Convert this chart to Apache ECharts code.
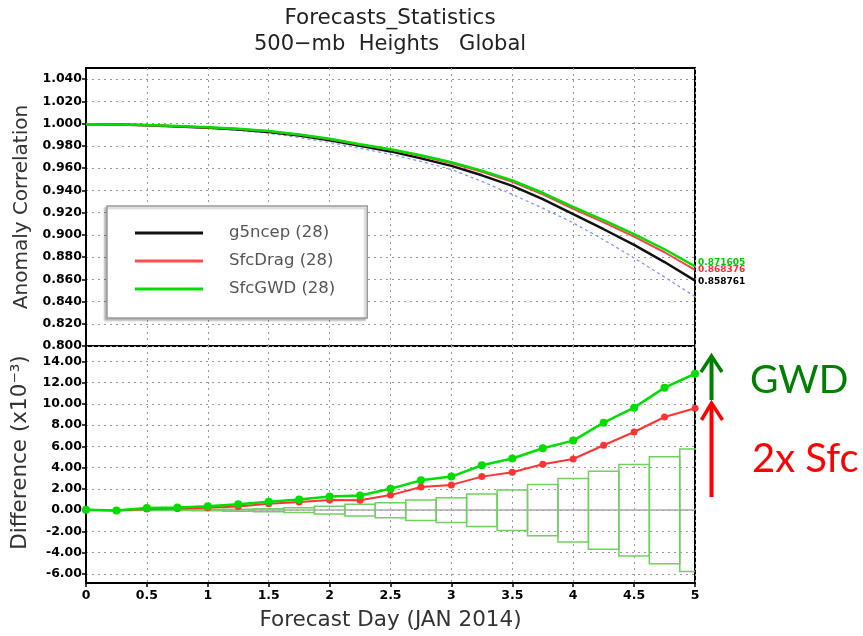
<!DOCTYPE html>
<html>
<head>
<meta charset="utf-8">
<script src="https://cdn.jsdelivr.net/npm/echarts@6/dist/echarts.min.js"></script>
<style>html,body{margin:0;padding:0;background:#fff}#c{width:863px;height:636px}</style>
</head>
<body>
<div id="c"></div>
<script>
// ---- data ----
const days = [0,0.25,0.5,0.75,1,1.25,1.5,1.75,2,2.25,2.5,2.75,3,3.25,3.5,3.75,4,4.25,4.5,4.75,5];
const g5ncep   = [0.9995,0.9993,0.9985,0.9975,0.9963,0.9948,0.9925,0.9892,0.9850,0.9800,0.9750,0.9687,0.9620,0.9535,0.9440,0.9320,0.9185,0.9050,0.8910,0.8755,0.858761];
const sfcDrag  = [0.9995,0.9993,0.9986,0.9977,0.9965,0.9952,0.9931,0.9900,0.9860,0.9809,0.9764,0.9709,0.9644,0.9567,0.9476,0.9363,0.9233,0.9111,0.8984,0.8843,0.868376];
const sfcGWD   = [0.9995,0.9993,0.9987,0.9978,0.9967,0.9954,0.9933,0.9902,0.9863,0.9814,0.9770,0.9715,0.9652,0.9577,0.9489,0.9378,0.9251,0.9132,0.9007,0.8870,0.871605];
const refDashed= [0.9995,0.9993,0.9984,0.9972,0.9958,0.9940,0.9913,0.9875,0.9830,0.9778,0.9724,0.9660,0.9588,0.9480,0.9363,0.9240,0.9107,0.8955,0.8792,0.8620,0.8445];
const diffDrag = [0.05,-0.02,0.12,0.15,0.22,0.35,0.6,0.78,0.97,0.93,1.42,2.19,2.38,3.16,3.57,4.32,4.82,6.11,7.36,8.77,9.6];
const diffGWD  = [0.05,-0.02,0.2,0.25,0.38,0.55,0.8,1.0,1.3,1.38,2.02,2.81,3.16,4.23,4.86,5.83,6.55,8.24,9.65,11.53,12.84];
const sigHalf  = [0.01,0.02,0.03,0.04,0.06,0.09,0.14,0.22,0.36,0.55,0.7,0.97,1.16,1.53,1.91,2.41,2.99,3.67,4.31,5.04,5.76];
const topTicks = [0.80,0.82,0.84,0.86,0.88,0.90,0.92,0.94,0.96,0.98,1.00,1.02,1.04];
const botTicks = [-6,-4,-2,0,2,4,6,8,10,12,14];
const seriesNames = ['g5ncep (28)','SfcDrag (28)','SfcGWD (28)'];

const pairs = (xs, ys) => xs.map((x, i) => [x, ys[i]]);
const BOX_W = 0.25;

const labelFont = {fontFamily:'DejaVu Sans', fontWeight:'bold', fontSize:12.5, color:'#000'};
const nameFont = {fontFamily:'DejaVu Sans', fontSize:20, color:'#333'};
const dotted = {show:true, lineStyle:{color:'#999', width:1, type:[2,4]}};

const chart = echarts.init(document.getElementById('c'), null, {renderer:'canvas'});
chart.setOption({
  animation:false,
  backgroundColor:'#fff',
  grid:[
    {left:86, top:68, width:609, height:278, show:true, borderColor:'#000', borderWidth:2, backgroundColor:'transparent'},
    {left:86, top:346, width:609, height:237, show:true, borderColor:'#000', borderWidth:2, backgroundColor:'transparent'}
  ],
  xAxis:[
    {gridIndex:0, type:'value', min:0, max:5, interval:0.5, axisLine:{show:false, onZero:false}, axisTick:{show:false}, axisLabel:{show:false}, splitLine:dotted},
    {gridIndex:1, type:'value', min:0, max:5, interval:0.5, axisLine:{show:false, onZero:false},
     axisTick:{show:true, length:4, lineStyle:{color:'#000', width:1.5}},
     axisLabel:{...labelFont, margin:6},
     splitLine:dotted,
     name:'Forecast Day (JAN 2014)', nameLocation:'middle', nameGap:26,
     nameTextStyle:{...nameFont, fontSize:21.5}}
  ],
  yAxis:[
    {gridIndex:0, type:'value', min:0.8, max:1.05,
     axisLine:{show:true, onZero:false, lineStyle:{color:'#000', width:2}},
     axisTick:{show:true, length:4, customValues:topTicks, lineStyle:{color:'#000', width:1.5}},
     axisLabel:{...labelFont, margin:4, customValues:topTicks, formatter:v => v.toFixed(3)},
     splitLine:dotted,
     name:'Anomaly Correlation', nameLocation:'middle', nameGap:47,
     nameTextStyle:nameFont},
    {gridIndex:1, type:'value', min:-6.85, max:15.45,
     axisLine:{show:true, onZero:false, lineStyle:{color:'#000', width:2}},
     axisTick:{show:true, length:4, customValues:botTicks, lineStyle:{color:'#000', width:1.5}},
     axisLabel:{...labelFont, margin:4, customValues:botTicks, formatter:v => v.toFixed(2)},
     splitLine:dotted,
     name:'Difference (x10\u207B\u00B3)', nameLocation:'middle', nameGap:47,
     nameTextStyle:{...nameFont, fontSize:21.5, padding:[0,0,0,24]}}
  ],
  legend:{
    data:seriesNames, orient:'vertical', left:107, top:206,
    icon:'rect', itemWidth:68, itemHeight:3, itemGap:0,
    padding:[13,32,15,28],
    backgroundColor:'#fff', borderColor:'#999', borderWidth:1.5,
    shadowColor:'rgba(0,0,0,0.25)', shadowBlur:2, shadowOffsetX:-2, shadowOffsetY:2,
    textStyle:{fontFamily:'DejaVu Sans', fontSize:16.5, color:'#555', lineHeight:28, padding:[0,0,0,21]}
  },
  series:[
    {type:'line', name:'reference', xAxisIndex:0, yAxisIndex:0, data:pairs(days, refDashed),
     showSymbol:false, color:'#7a90ff', lineStyle:{color:'#7a90ff', width:1.2, type:[3,3]}, z:2},
    {type:'line', name:seriesNames[0], xAxisIndex:0, yAxisIndex:0, data:pairs(days, g5ncep),
     showSymbol:false, color:'#111', lineStyle:{color:'#111', width:2.5}, z:3,
     endLabel:{show:true, formatter:p => p.value[1].toFixed(6), color:'#000', fontSize:9, fontWeight:'bold', fontFamily:'DejaVu Sans', distance:3, offset:[0,1]}},
    {type:'line', name:seriesNames[1], xAxisIndex:0, yAxisIndex:0, data:pairs(days, sfcDrag),
     showSymbol:false, color:'#ff4d4d', lineStyle:{color:'#ff4040', width:2}, z:4,
     endLabel:{show:true, formatter:p => p.value[1].toFixed(6), color:'#ff3030', fontSize:9, fontWeight:'bold', fontFamily:'DejaVu Sans', distance:3, offset:[0,0]}},
    {type:'line', name:seriesNames[2], xAxisIndex:0, yAxisIndex:0, data:pairs(days, sfcGWD),
     showSymbol:false, color:'#00dd00', lineStyle:{color:'#00dd00', width:2.5}, z:5,
     endLabel:{show:true, formatter:p => p.value[1].toFixed(6), color:'#00cc00', fontSize:9, fontWeight:'bold', fontFamily:'DejaVu Sans', distance:3, offset:[0,-4]}},
    {type:'custom', name:'significance', xAxisIndex:1, yAxisIndex:1, clip:true,
     data:pairs(days, sigHalf), z:2,
     renderItem:(params, api) => {
       const x = api.value(0), h = api.value(1);
       const p1 = api.coord([x - BOX_W/2, h]);
       const p2 = api.coord([x + BOX_W/2, -h]);
       return {type:'rect', shape:{x:p1[0], y:p1[1], width:p2[0]-p1[0], height:p2[1]-p1[1]},
               style:{fill:'none', stroke:'#70d060', lineWidth:1.5}};
     }},
    {type:'line', name:'SfcDrag diff', xAxisIndex:1, yAxisIndex:1, data:pairs(days, diffDrag),
     symbol:'circle', symbolSize:7, color:'#ff3333', lineStyle:{color:'#ff3333', width:2}, z:4,
     markLine:{silent:true, symbol:'none', label:{show:false}, lineStyle:{color:'#aaa', width:1.5, type:'solid'}, data:[{yAxis:0}], z:1}},
    {type:'line', name:'SfcGWD diff', xAxisIndex:1, yAxisIndex:1, data:pairs(days, diffGWD),
     symbol:'circle', symbolSize:8, color:'#00dd00', lineStyle:{color:'#00dd00', width:2.5}, z:5}
  ],
  graphic:[
    {type:'text', x:390, y:18, style:{text:'Forecasts_Statistics', fill:'#222', font:'21.5px "DejaVu Sans"', align:'center', verticalAlign:'middle'}},
    {type:'text', x:390, y:45, style:{text:'500\u2212mb  Heights   Global', fill:'#222', font:'21px "DejaVu Sans"', align:'center', verticalAlign:'middle'}},
    // annotation arrows and texts
    {type:'polyline', shape:{points:[[711.5,400],[711.5,357]]}, style:{stroke:'#008000', lineWidth:4, fill:null}},
    {type:'polyline', shape:{points:[[701,372],[711.5,356],[722,372]]}, style:{stroke:'#008000', lineWidth:3.5, fill:null, lineJoin:'miter'}},
    {type:'polyline', shape:{points:[[711.5,497],[711.5,404]]}, style:{stroke:'#ff0000', lineWidth:4, fill:null}},
    {type:'polyline', shape:{points:[[701.5,420],[711.5,403],[722.5,420]]}, style:{stroke:'#ff0000', lineWidth:3.5, fill:null, lineJoin:'miter'}},
    {type:'text', x:750, y:380, style:{text:'GWD', fill:'#008000', font:'39px Lato', align:'left', verticalAlign:'middle'}},
    {type:'text', x:752, y:459, style:{text:'2x Sfc', fill:'#ff0000', font:'40px Lato', align:'left', verticalAlign:'middle'}}
  ]
});
</script>
</body>
</html>
